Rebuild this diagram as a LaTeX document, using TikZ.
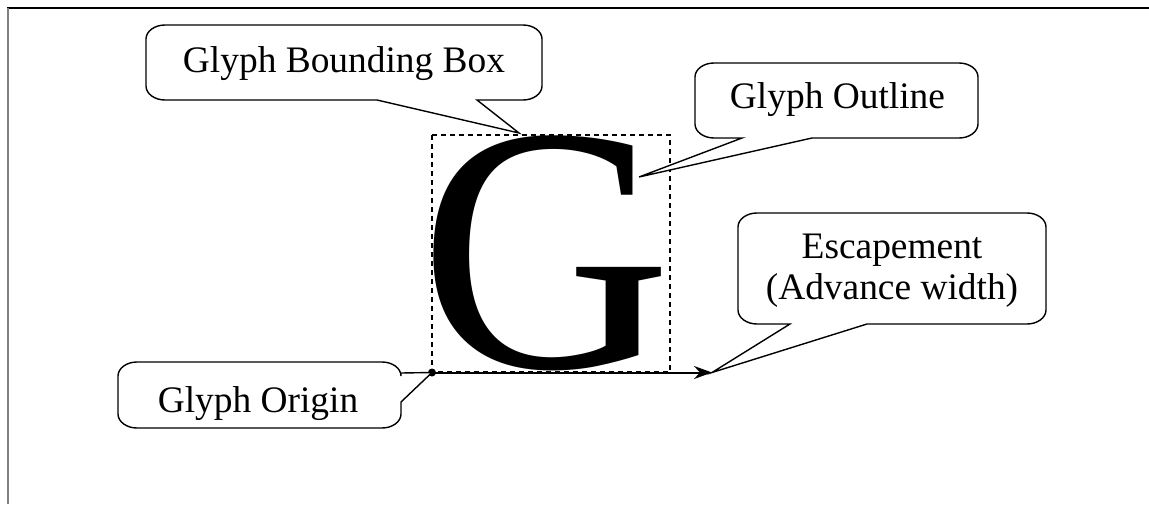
\documentclass[tikz,border=0pt]{standalone}
\usepackage{fontspec}
\setmainfont{Liberation Serif}
\usetikzlibrary{arrows.meta,calc}

\tikzset{
  area/.style={inner sep=0pt, outer sep=0pt, draw=none},
  calltext/.style={inner sep=0pt, font=\fontsize{37.4}{41}\selectfont},
  callout/.style={draw=black, line width=1.4pt, fill=white, line join=miter},
  bboxline/.style={draw=black, line width=1.2pt, dash pattern=on 5pt off 4pt},
  advance/.style={draw=black, line width=2pt, -{Stealth[length=18pt, width=13pt, inset=6pt]}},
}

% soft corners of a callout box, walked clockwise on the page
\def\crx{19}
\def\cry{14}
\newcommand{\cornerSW}[1]{-- ($(#1.south west)+(\crx,0)$) .. controls ($(#1.south west)+(0.45*\crx,0)$) and ($(#1.south west)+(0,-0.45*\cry)$) .. ($(#1.south west)+(0,-\cry)$)}
\newcommand{\cornerNW}[1]{-- ($(#1.north west)+(0,\cry)$) .. controls ($(#1.north west)+(0,0.45*\cry)$) and ($(#1.north west)+(0.45*\crx,0)$) .. ($(#1.north west)+(\crx,0)$)}
\newcommand{\cornerNE}[1]{-- ($(#1.north east)+(-\crx,0)$) .. controls ($(#1.north east)+(-0.45*\crx,0)$) and ($(#1.north east)+(0,0.45*\cry)$) .. ($(#1.north east)+(0,\cry)$)}
\newcommand{\cornerSE}[1]{-- ($(#1.south east)+(0,-\cry)$) .. controls ($(#1.south east)+(0,-0.45*\cry)$) and ($(#1.south east)+(-0.45*\crx,0)$) .. ($(#1.south east)+(-\crx,0)$)}

\begin{document}
\begin{tikzpicture}[x=1pt, y=-1pt]
\useasboundingbox (0,0) rectangle (1149,504);

% frame lines
\draw[line width=2pt, black] (7,8) -- (1149,8);
\draw[line width=2pt, gray] (7.5,8) -- (7.5,504);

% the glyph and its metrics
\node[inner sep=0pt, anchor=base west, font=\fontsize{350}{350}\selectfont] (bigG) at (419,367) {G};
\coordinate (origin) at (432,372.5);
\coordinate (adv) at (712,372.5);
\draw[bboxline] (432,135) rectangle (670,372);
\draw[advance] (origin) -- (adv);
\fill (origin) circle (4pt);

% pointer targets
\coordinate (bbtip) at (519,133);
\coordinate (oltip) at (639,177);

% callout areas
\node[area, minimum width=396pt, minimum height=75pt] (bb) at (344,62.5) {};
\node[area, minimum width=283pt, minimum height=75pt] (ol) at (836.5,100.5) {};
\node[area, minimum width=308pt, minimum height=111pt] (es) at (892,268.5) {};
\node[area, minimum width=283pt, minimum height=66pt] (og) at (259.5,395) {};

% Glyph Bounding Box callout
\draw[callout] ($(bb.south west)+(231,0)$) \cornerSW{bb} \cornerNW{bb} \cornerNE{bb} \cornerSE{bb}
  -- ($(bb.south west)+(331,0)$) -- (bbtip) -- cycle;
% Glyph Outline callout
\draw[callout] ($(ol.south west)+(47,0)$) \cornerSW{ol} \cornerNW{ol} \cornerNE{ol} \cornerSE{ol}
  -- ($(ol.south west)+(117,0)$) -- (oltip) -- cycle;
% Escapement callout
\draw[callout] ($(es.south west)+(52,0)$) \cornerSW{es} \cornerNW{es} \cornerNE{es} \cornerSE{es}
  -- ($(es.south west)+(129,0)$) -- (adv) -- cycle;
% Glyph Origin callout
\draw[callout] ($(og.north east)+(0,40)$) \cornerSE{og} \cornerSW{og} \cornerNW{og} \cornerNE{og}
  -- ($(og.north east)+(0,11)$) -- (origin) -- cycle;

% callout texts
\node[calltext, anchor=base] (bbtext) at (344,72) {Glyph Bounding Box};
\node[calltext, anchor=base] (oltext) at (837.5,108) {Glyph Outline};
\node[calltext, align=center] (estext) at (892,271) {Escapement\\(Advance width)};
\node[calltext, anchor=base] (ogtext) at (258,412) {Glyph Origin};
\end{tikzpicture}
\end{document}
